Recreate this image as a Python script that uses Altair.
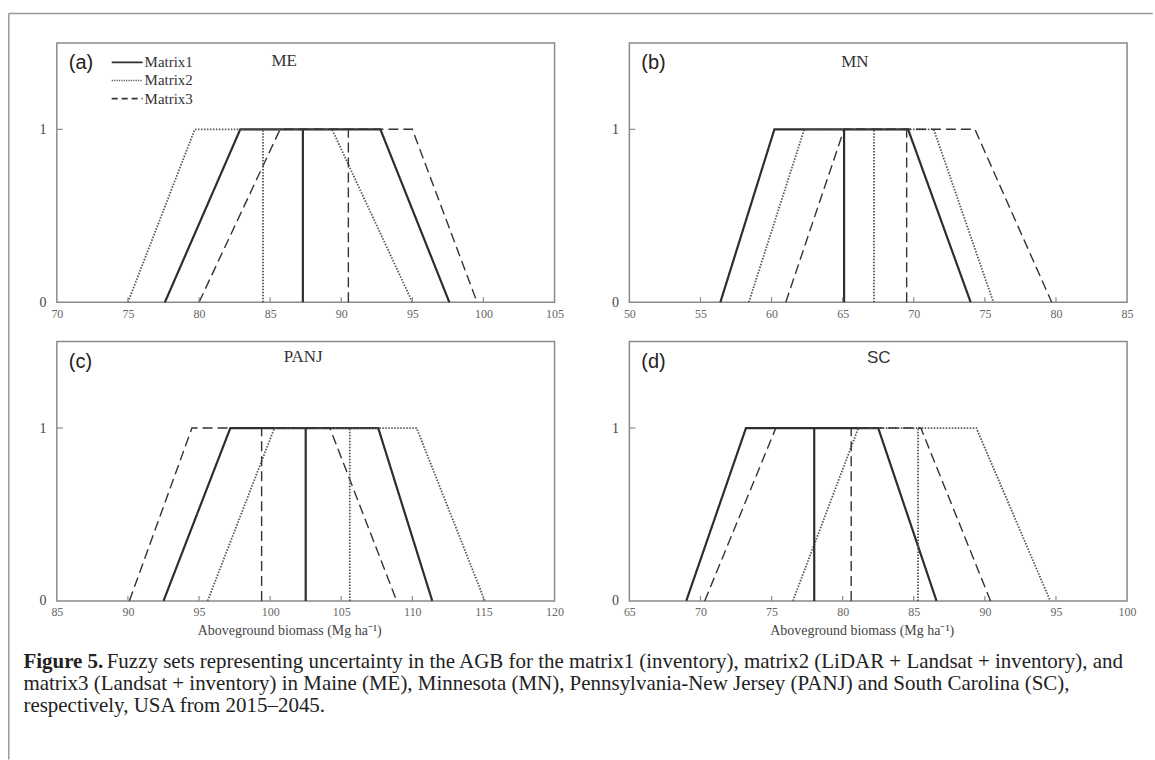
import altair as alt
import pandas as pd

# ---------------- data ----------------
STATES = ["ME", "MN", "PANJ", "SC"]
LETTERS = ["(a)", "(b)", "(c)", "(d)"]
SERIES = ["Matrix1", "Matrix2", "Matrix3"]
MEMBERSHIP = [0, 1, 1, 0]

X_DOMAINS = {"ME": [70, 105], "MN": [50, 85], "PANJ": [85, 120], "SC": [65, 100]}

# trapezoid corners (x at membership 0, 1, 1, 0) for Matrix1, Matrix2, Matrix3
ME_TRAP = [[77.6, 82.9, 92.75, 97.6], [75.0, 79.7, 89.35, 95.0], [80.0, 85.7, 95.0, 99.55]]
MN_TRAP = [[56.4, 60.2, 69.6, 74.0], [58.4, 62.3, 71.4, 75.6], [61.0, 65.1, 74.3, 79.7]]
PANJ_TRAP = [[92.5, 97.2, 107.6, 111.4], [95.6, 100.3, 110.3, 115.1], [90.1, 94.5, 104.2, 108.9]]
SC_TRAP = [[69.0, 73.2, 82.5, 86.6], [76.5, 81.1, 89.4, 94.6], [70.3, 75.3, 85.5, 90.4]]

# central (most likely) value of each fuzzy set
ME_MID = [87.3, 84.5, 90.5]
MN_MID = [65.1, 67.2, 69.5]
PANJ_MID = [102.5, 105.6, 99.4]
SC_MID = [78.0, 85.3, 80.6]

TRAPS = {"ME": ME_TRAP, "MN": MN_TRAP, "PANJ": PANJ_TRAP, "SC": SC_TRAP}
MIDS = {"ME": ME_MID, "MN": MN_MID, "PANJ": PANJ_MID, "SC": SC_MID}

X_TITLE = "Aboveground biomass  (Mg ha\u207b\u00b9)"
CAPTION_BOLD = "Figure 5."
CAPTION_1 = ("Fuzzy sets representing uncertainty in the AGB for the matrix1 (inventory), "
             "matrix2 (LiDAR + Landsat + inventory), and")
CAPTION_2 = ("matrix3 (Landsat + inventory) in Maine (ME), Minnesota (MN), "
             "Pennsylvania-New Jersey (PANJ) and South Carolina (SC),")
CAPTION_3 = "respectively, USA from 2015\u20132045."

# ---------------- tables ----------------
shape_rows, mid_rows, tick_rows = [], [], []
for st in STATES:
    for s, trap in zip(SERIES, TRAPS[st]):
        for k, (xv, yv) in enumerate(zip(trap, MEMBERSHIP)):
            shape_rows.append({"state": st, "series": s, "x": xv, "y": yv, "order": k})
    for s, m in zip(SERIES, MIDS[st]):
        mid_rows.append({"state": st, "series": s, "x": m})
    lo, hi = X_DOMAINS[st]
    for v in range(lo + 5, hi, 5):
        tick_rows.append({"state": st, "x": v})
shape_df = pd.DataFrame(shape_rows)
mid_df = pd.DataFrame(mid_rows)
tick_df = pd.DataFrame(tick_rows)
one = pd.DataFrame({"k": [0]})

W, H = 499, 260
LINE_COLOR = ["#2e2e2e", "#555555", "#333333"]
DASHES = [[1, 0], [1.5, 1.5], [10, 5]]
WIDTHS = [2.2, 1.4, 2.0]
SERIF = "Liberation Serif"
CAP_SIZE = 21

dash_enc = alt.StrokeDash("series:N", scale=alt.Scale(domain=SERIES, range=DASHES), legend=None)
width_enc = alt.StrokeWidth("series:N", scale=alt.Scale(domain=SERIES, range=WIDTHS), legend=None)
color_enc = alt.Color("series:N", scale=alt.Scale(domain=SERIES, range=LINE_COLOR), legend=None)

TITLE_POS = {"ME": (228, 18), "MN": (226, 19), "PANJ": (247, 15), "SC": (250, 16)}


def panel(i, st):
    lo, hi = X_DOMAINS[st]
    bottom = i >= 2
    xscale = alt.Scale(domain=[lo, hi], nice=False, zero=False)
    yscale = alt.Scale(domain=[0, 1.5], nice=False)
    xaxis = alt.Axis(values=list(range(lo, hi + 1, 5)), format="d", domain=False, ticks=False,
                     grid=False, labelFont=SERIF, labelFontSize=12, labelColor="#666666",
                     labelPadding=6, labelFlush=False,
                     title=X_TITLE if bottom else "", titleFont=SERIF, titleFontSize=14,
                     titleFontWeight="normal", titleColor="#444444", titlePadding=6,
                     titleX=233, titleAlign="center")
    yaxis = alt.Axis(values=[0, 1], format="d", domain=False, ticks=False, grid=False,
                     labelFont=SERIF, labelFontSize=14, labelColor="#444444", labelPadding=11,
                     title="")

    def X(field="x:Q"):
        return alt.X(field, scale=xscale, axis=xaxis)

    def Y():
        return alt.Y("y:Q", scale=yscale, axis=yaxis)

    lines = alt.Chart(shape_df[shape_df.state == st]).mark_line().encode(
        x=X(), y=Y(), order="order:Q", detail="series:N",
        strokeDash=dash_enc, strokeWidth=width_enc, color=color_enc)

    mids = alt.Chart(mid_df[mid_df.state == st]).mark_rule().encode(
        x=X(), y=alt.Y(datum=0, scale=yscale, axis=yaxis), y2=alt.datum(1),
        strokeDash=dash_enc, strokeWidth=width_enc, color=color_enc)

    xticks = alt.Chart(tick_df[tick_df.state == st]).mark_rule(
        color="#8a8a8a", strokeWidth=1.2).encode(
        x=X(), y=alt.value(H), y2=alt.value(H - 5))

    yticks = alt.Chart(one).mark_rule(color="#8a8a8a", strokeWidth=1.2).encode(
        y=alt.Y(datum=1, scale=yscale, axis=yaxis), x=alt.value(0), x2=alt.value(6))

    letter = alt.Chart(one).mark_text(
        text=LETTERS[i], font="Liberation Sans", fontSize=20, color="#222222",
        align="left", baseline="middle").encode(x=alt.value(12), y=alt.value(20))

    tx, ty = TITLE_POS[st]
    title = alt.Chart(one).mark_text(
        text=st, font="Liberation Sans" if st == "SC" else SERIF,
        fontSize=17, color="#333333", align="center", baseline="middle").encode(
        x=alt.value(tx), y=alt.value(ty))

    layers = [lines, mids, xticks, yticks, letter, title]

    if i == 0:
        # legend
        for j, s in enumerate(SERIES):
            yy = 19.5 + 18.2 * j
            layers.append(alt.Chart(one).mark_rule(
                color=LINE_COLOR[j], strokeWidth=min(WIDTHS[j], 1.8),
                strokeDash=[6, 4] if j == 2 else ([1.2, 1.2] if j == 1 else [1, 0])).encode(
                x=alt.value(55), x2=alt.value(86), y=alt.value(yy)))
            layers.append(alt.Chart(one).mark_text(
                text=s, font=SERIF, fontSize=15, color="#333333",
                align="left", baseline="middle").encode(x=alt.value(88), y=alt.value(yy)))
        # outer figure frame (top and left edges)
        layers.append(alt.Chart(one).mark_rule(color="#9a9a9a", strokeWidth=1.5).encode(
            x=alt.value(-48.2), x2=alt.value(1098.8), y=alt.value(-29.5)))
        layers.append(alt.Chart(one).mark_rule(color="#9a9a9a", strokeWidth=1.5).encode(
            x=alt.value(-48.2), y=alt.value(-29.5), y2=alt.value(718.5)))

    if i == 2:
        layers.append(alt.Chart(one).mark_text(
            text=CAPTION_BOLD, font=SERIF, fontSize=CAP_SIZE, fontWeight="bold", color="#222222",
            align="left", baseline="middle").encode(x=alt.value(-33.5), y=alt.value(321)))
        layers.append(alt.Chart(one).mark_text(
            text=CAPTION_1, font=SERIF, fontSize=CAP_SIZE, color="#222222",
            align="left", baseline="middle").encode(x=alt.value(50), y=alt.value(321)))
        layers.append(alt.Chart(one).mark_text(
            text=CAPTION_2, font=SERIF, fontSize=CAP_SIZE, color="#222222",
            align="left", baseline="middle").encode(x=alt.value(-33.5), y=alt.value(343)))
        layers.append(alt.Chart(one).mark_text(
            text=CAPTION_3, font=SERIF, fontSize=CAP_SIZE, color="#222222",
            align="left", baseline="middle").encode(x=alt.value(-33.5), y=alt.value(365)))

    return alt.layer(*layers).properties(width=W, height=H)


panels = [panel(i, st) for i, st in enumerate(STATES)]

chart = alt.concat(
    *panels, columns=2, spacing={"row": 39.5, "column": 75}, bounds="flush"
).properties(
    padding={"left": 7, "top": 11, "right": 0, "bottom": 0},
    background="white",
).configure_view(
    stroke="#8a8a8a", strokeWidth=1.5
)

chart.save("out.html", embed_options={"renderer": "svg", "actions": False})
